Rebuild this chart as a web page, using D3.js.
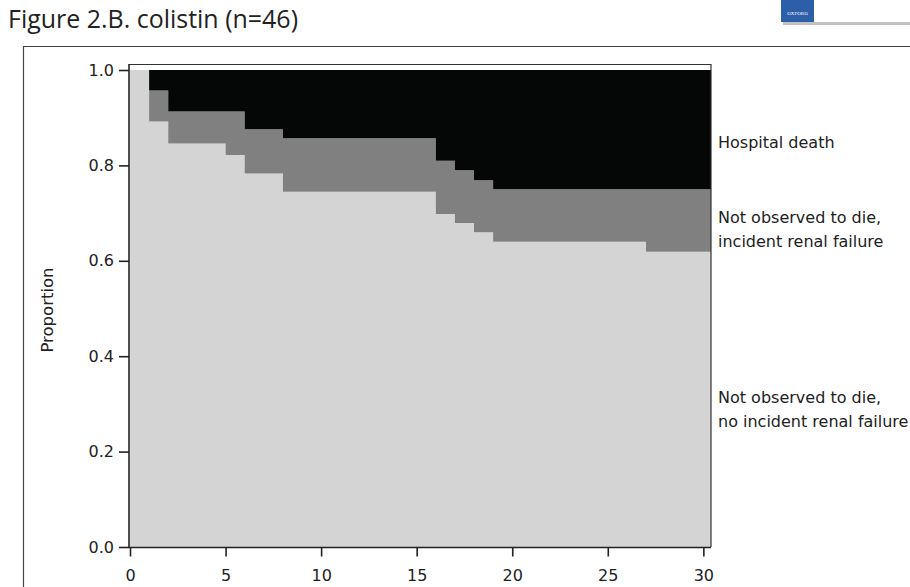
<!DOCTYPE html>
<html>
<head>
<meta charset="utf-8">
<script src="https://cdn.jsdelivr.net/npm/d3@7"></script>
<style>
  html, body { margin: 0; padding: 0; background: #fff; }
  svg { display: block; }
</style>
</head>
<body>
<svg id="chart" width="910" height="587"></svg>
<script>
// Follow-up time (days) at which each step begins
const stepDays = [0, 1, 2, 5, 6, 8, 16, 17, 18, 19, 27];
const lastDay = 30.4;
// Proportion not observed to die (upper edge of the grey band)
const aliveProp = [1.0, 0.957, 0.913, 0.913, 0.876, 0.857, 0.810, 0.790, 0.769, 0.750, 0.750];
// Proportion alive without incident renal failure (upper edge of the light band)
const aliveNoRenalProp = [1.0, 0.892, 0.846, 0.822, 0.783, 0.745, 0.698, 0.679, 0.660, 0.640, 0.619];

const xTicks = [0, 5, 10, 15, 20, 25, 30];
const yTicks = [0.0, 0.2, 0.4, 0.6, 0.8, 1.0];

const stateLabels = [
  { lines: ["Hospital death"], at: 0.849 },
  { lines: ["Not observed to die,", "incident renal failure"], at: 0.666 },
  { lines: ["Not observed to die,", "no incident renal failure"], at: 0.289 }
];

const svg = d3.select("#chart");
const font = "'DejaVu Sans', Verdana, sans-serif";

// page frame around the figure
svg.append("path")
  .attr("d", "M23.5,587 V46.5 H910")
  .attr("fill", "none").attr("stroke", "#444").attr("stroke-width", 1.2);

// title
svg.append("text")
  .attr("x", 8).attr("y", 28)
  .attr("font-family", "'Open Sans', sans-serif")
  .attr("font-size", 25).attr("fill", "#222")
  .attr("textLength", 290).attr("lengthAdjust", "spacingAndGlyphs")
  .text("Figure 2.B. colistin (n=46)");

// publisher badge in the corner
svg.append("rect").attr("x", 783).attr("y", 2).attr("width", 127).attr("height", 23).attr("fill", "#999").attr("opacity", 0.6);
svg.append("rect").attr("x", 781).attr("y", 0).attr("width", 129).attr("height", 22).attr("fill", "#fff");
svg.append("rect").attr("x", 781).attr("y", 0).attr("width", 33).attr("height", 22).attr("fill", "#2d5fa8");
svg.append("text").attr("x", 797.5).attr("y", 15).attr("text-anchor", "middle")
  .attr("font-family", "'Liberation Serif', serif").attr("font-size", 5).attr("fill", "#fff").text("OXFORD");

const x = d3.scaleLinear().domain([0, lastDay]).range([130, 711]);
const y = d3.scaleLinear().domain([0, 1]).range([547, 70]);

const rows = stepDays.map((d, i) => ({ t: d, alive: aliveProp[i], noRenal: aliveNoRenalProp[i] }));
rows.push({ t: lastDay, alive: aliveProp[aliveProp.length - 1], noRenal: aliveNoRenalProp[aliveNoRenalProp.length - 1] });

const area = (lo, hi) => d3.area().curve(d3.curveStepAfter)
  .x(d => x(d.t)).y0(d => y(lo(d))).y1(d => y(hi(d)));

const g = svg.append("g");
g.append("path").datum(rows).attr("fill", "#d4d4d4")
  .attr("d", area(() => 0, d => d.noRenal));
g.append("path").datum(rows).attr("fill", "#7f807f")
  .attr("d", area(d => d.noRenal, d => d.alive));
g.append("path").datum(rows).attr("fill", "#050606")
  .attr("d", area(d => d.alive, () => 1));

// plot box (top and right edges)
svg.append("path")
  .attr("d", `M129,64.5 H${x(lastDay)} V547`)
  .attr("fill", "none").attr("stroke", "#333").attr("stroke-width", 1.2);

// axes
const yAxis = d3.axisLeft(y).tickValues(yTicks).tickFormat(d3.format(".1f")).tickSize(10).tickPadding(5);
const ya = svg.append("g").attr("transform", "translate(129,0)").call(yAxis);
ya.select(".domain").attr("d", "M0,64 V547.5");

const xAxis = d3.axisBottom(x).tickValues(xTicks).tickFormat(d3.format("d")).tickSize(9).tickPadding(13);
const xa = svg.append("g").attr("transform", "translate(0,547.5)").call(xAxis);
xa.select(".domain").attr("d", `M129,0 H${x(lastDay)}`);

[ya, xa].forEach(a => {
  a.selectAll("text").attr("font-family", font).attr("font-size", 16).attr("fill", "#222");
  a.selectAll("line, path").attr("stroke", "#222").attr("stroke-width", 1.6);
});

svg.append("text")
  .attr("transform", "translate(53,310) rotate(-90)")
  .attr("text-anchor", "middle")
  .attr("font-family", font).attr("font-size", 16.5).attr("fill", "#222")
  .text("Proportion");

// state labels beside the plot
stateLabels.forEach(s => {
  const t = svg.append("text")
    .attr("x", 718)
    .attr("font-family", font).attr("font-size", 16).attr("fill", "#222");
  const n = s.lines.length;
  s.lines.forEach((ln, i) => {
    t.append("tspan").attr("x", 718)
      .attr("y", y(s.at) + 6 + (i - (n - 1) / 2) * 24)
      .text(ln);
  });
});
</script>
</body>
</html>
